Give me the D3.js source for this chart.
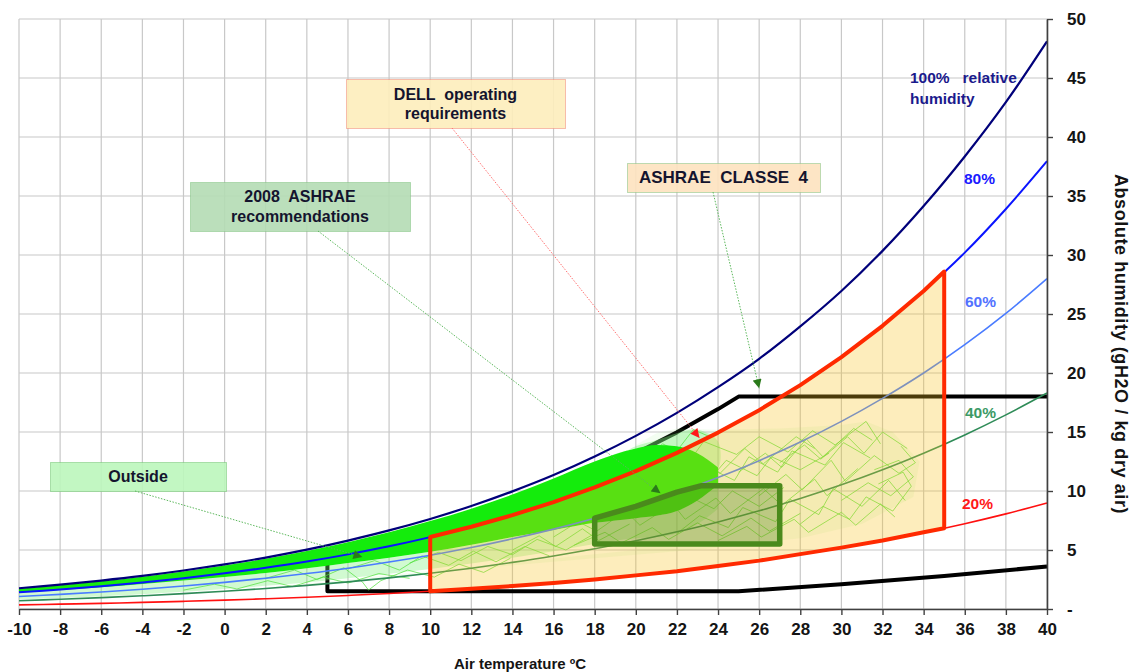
<!DOCTYPE html>
<html>
<head>
<meta charset="utf-8">
<script src="https://cdn.jsdelivr.net/npm/d3@7"></script>
<style>
  html, body { margin: 0; padding: 0; background: #fff; }
  svg { display: block; font-family: "Liberation Sans", Arial, sans-serif; }
</style>
</head>
<body>
<div id="chart"></div>
<script>
// Axis ticks
const xTicks = [-10,-8,-6,-4,-2,0,2,4,6,8,10,12,14,16,18,20,22,24,26,28,30,32,34,36,38,40]
const yTicks = [0,5,10,15,20,25,30,35,40,45,50]
const yTickLabels = ['-','5','10','15','20','25','30','35','40','45','50']

// Relative humidity curves (g H2O / kg dry air) at each temperature
const rhTemps = [-10,-8,-6,-4,-2,0,2,4,6,8,10,12,14,16,18,20,22,24,26,28,30,32,34,36,38,40]
const rh100 = [1.76,2.07,2.41,2.80,3.26,3.78,4.36,5.03,5.80,6.66,7.63,8.73,9.97,11.35,12.92,14.67,16.62,18.8,21.2,23.95,26.95,30.35,34.15,38.35,42.95,48.1]
const rh80 = [1.41,1.65,1.93,2.24,2.60,3.02,3.49,4.02,4.63,5.31,6.09,6.97,7.95,9.06,10.3,11.68,13.23,14.95,16.85,18.97,21.35,24.0,26.95,30.2,33.9,37.95]
const rh60 = [1.06,1.24,1.44,1.68,1.95,2.26,2.61,3.01,3.46,3.98,4.56,5.21,5.95,6.77,7.69,8.72,9.87,11.15,12.57,14.15,15.9,17.85,20.0,22.4,25.05,28.0]
const rh40 = [0.70,0.82,0.96,1.12,1.30,1.50,1.74,2.0,2.3,2.64,3.03,3.46,3.95,4.49,5.1,5.78,6.54,7.38,8.32,9.36,10.52,11.8,13.2,14.75,16.45,18.3]
const rh20 = [0.35,0.41,0.48,0.56,0.65,0.75,0.87,1.0,1.15,1.32,1.51,1.72,1.96,2.23,2.53,2.87,3.24,3.65,4.11,4.62,5.18,5.8,6.48,7.23,8.06,8.98]

// ASHRAE class 4 envelope (black)
const classA4 = [[40,18],[25,18],[24,16.94],[22,14.97],[20,13.2],[18,11.62],[16,10.21],[14,8.96],[12,7.85],[10,6.86],[8,5.98],[5,4.86],[5,1.5],[25,1.5],[30,2.1],[35,2.8],[40,3.6]]

// DELL operating requirements (red outline, yellow fill)
const dellZone = [[10,1.5],[10,6.1],[12,6.97],[14,7.95],[16,9.06],[18,10.3],[20,11.68],[22,13.23],[24,14.95],[26,16.85],[28,18.97],[30,21.35],[32,24.0],[34,26.95],[35,28.6],[35,6.85],[34,6.5],[32,5.8],[30,5.2],[28,4.65],[26,4.1],[24,3.65],[22,3.2],[20,2.85],[18,2.5],[16,2.2],[14,1.95],[12,1.72],[10,1.5]]

// 2008 ASHRAE recommended envelope (dark green)
const ashrae2008 = [[18,5.5],[18,7.7],[20,8.7],[22,9.9],[23.2,10.45],[27,10.45],[27,5.5],[18,5.5]]

// Outside measurements: dense band, halos and individual tracks
const denseT = [-10,-8,-6,-4,-2,0,2,4,6,8,10,12,14,16,18,20,21,22,23,24]
const denseHi = [1.72,2.02,2.35,2.74,3.18,3.69,4.26,4.91,5.66,6.5,7.45,8.5,9.7,11.05,12.5,13.6,13.9,13.8,13.2,12.0]
const denseLo = [1.4,1.6,1.85,2.12,2.42,2.72,3.05,3.45,3.9,4.35,4.85,5.45,6.1,6.7,7.3,7.7,7.9,8.3,9.2,10.5]
const haloLo = [0.8,0.93,1.08,1.26,1.46,1.69,1.96,2.25,2.6,2.98,3.4,3.85,4.35,4.9,5.5,6.0,6.1,6.4,7.2,8.5]
const upperHalo = [[17,11.7],[19,12.9],[20,13.8],[21,14.3],[22,14.9],[23,15.2],[24,14.2],[24,12.0],[23,13.2],[22,13.8],[20,13.6],[18,12.5]]
const meshArea = [[20,13.9],[21,14.9],[22,15.3],[24,15.2],[27,15.3],[30,15.6],[31.2,15.9],[32.5,15.0],[33.8,12.5],[33.5,9.5],[31,7.2],[28,6.0],[24,5.2],[20,4.6],[16,4.0],[12,3.4],[8,2.7],[5,2.2],[2,1.8],[20,5.0]]
const outsideTracks = [
  [[16,6.1],[17.2,7.4],[18.1,6.6],[19.5,8.3],[20.2,7.1],[21.8,8.9],[22.4,7.6],[23.9,9.4],[24.6,8.1],[26.2,10.2],[27.1,8.8],[28.7,11.0],[29.3,9.6],[30.8,11.9]],
  [[18,9.4],[19.6,10.8],[20.3,9.7],[21.1,11.5],[22.7,10.3],[23.4,12.1],[24.8,10.9],[25.5,12.9],[26.9,11.6],[27.6,13.4],[29.2,12.2],[30.1,14.1],[31.4,12.8]],
  [[20,12.4],[21.4,13.6],[22.6,12.5],[23.3,14.2],[24.9,13.1],[26.0,14.6],[27.4,13.3],[28.6,15.1],[29.7,13.9],[31.2,15.9],[31.9,14.0]],
  [[22,6.4],[23.1,7.9],[24.5,6.9],[25.2,8.6],[26.8,7.4],[27.5,9.3],[28.9,8.0],[29.6,10.2],[31.0,8.7],[32.3,10.9],[33.1,9.2]],
  [[24,5.8],[25.4,7.0],[26.1,6.1],[27.7,7.6],[28.4,6.5],[30.0,8.2],[30.7,7.1],[31.9,8.9],[32.6,7.8]],
  [[26,9.6],[27.3,11.4],[28.1,10.1],[29.5,12.6],[30.2,10.8],[31.6,13.0],[32.8,11.5],[33.6,12.4],[32.9,13.8]],
  [[27,12.4],[28.2,13.9],[29.0,12.7],[30.3,14.6],[31.1,13.2],[32.0,15.0],[33.2,13.6]],
  [[28,7.2],[29.1,8.7],[30.4,7.6],[31.2,9.5],[32.5,8.3],[33.4,10.4],[33.0,11.6],[31.8,10.6]],
  [[19,7.6],[20.4,9.1],[21.2,8.0],[22.5,9.6],[23.8,8.5],[24.7,10.0],[26.0,8.7],[27.2,10.3]],
  [[17,5.4],[18.5,6.5],[19.3,5.6],[20.8,6.9],[21.6,5.9],[23.0,7.3],[24.2,6.2],[25.6,7.7],[26.5,6.6],[28.0,8.1]],
  [[25,11.6],[26.3,13.2],[27.1,12.0],[28.3,14.4],[29.1,12.9],[30.6,15.3],[31.5,14.3]],
  [[21,10.6],[22.3,12.0],[23.6,11.0],[24.4,12.6],[25.9,11.3],[26.6,12.9],[28.0,11.8],[29.4,13.2]],
  [[14,5.0],[15.3,6.2],[16.1,5.3],[17.4,6.8],[18.2,5.8],[19.7,7.2]],
  [[2,2.6],[3.4,3.3],[4.5,2.5],[5.8,3.5],[6.7,2.3],[7.0,1.6],[7.6,2.4],[8.9,3.3],[10.2,2.7],[11.4,3.8],[12.6,3.1],[13.9,4.3]],
  [[6,3.4],[7.3,4.1],[8.5,3.3],[9.6,4.5],[10.9,3.7],[12.1,4.9],[13.2,4.0],[14.6,5.3],[15.8,4.5]],
  [[-2,1.6],[-0.5,2.1],[0.6,1.7],[2.1,2.4],[3.3,1.9],[4.8,2.7],[6.0,2.2],[7.5,3.0],[9.0,2.6]],
  [[9,3.9],[10.4,4.8],[11.5,4.1],[12.8,5.3],[14.0,4.6],[15.2,5.9],[16.6,5.0],[17.9,6.3]],
  [[18.5,12.3],[19.6,12.9],[20.4,12.4],[21.3,14.0],[22.0,13.4],[22.8,15.2],[23.6,14.6]],
  [[30,9.2],[31.3,10.7],[32.4,9.6],[33.5,11.2],[32.8,12.6],[31.6,11.8]],
  [[22,11.2],[23.3,12.7],[24.1,11.5],[25.3,13.6],[26.2,12.3],[27.8,14.6],[28.7,13.6]]
]

// Callout arrow tips (data coordinates)
const tipDell = [23.1, 14.5]
const tipClass4 = [26.0, 18.7]
const tip2008 = [21.2, 9.8]
const tipOutside = [6.7, 4.4]

const W = 1135, H = 672
const FONT = '"Liberation Sans", Arial, sans-serif'

const svg = d3.select('#chart').append('svg')
  .attr('width', W).attr('height', H)

const x = d3.scaleLinear().domain([-10, 40]).range([19, 1047])
const y = d3.scaleLinear().domain([0, 50]).range([609, 19])

// Arrow markers
const defs = svg.append('defs')
function marker(id, color) {
  defs.append('marker')
    .attr('id', id)
    .attr('viewBox', '0 0 10 10')
    .attr('refX', 10).attr('refY', 5)
    .attr('markerWidth', 10).attr('markerHeight', 9)
    .attr('markerUnits', 'userSpaceOnUse')
    .attr('orient', 'auto')
    .append('path').attr('d', 'M0,0 L10,5 L0,10 Z').attr('fill', color)
}
marker('arr-red', '#ff1a1a')
marker('arr-green', '#2a7a1a')

// Grid
const grid = svg.append('g').attr('class', 'grid')
grid.selectAll('line.v').data(xTicks).join('line').attr('class', 'v')
  .attr('x1', d => x(d)).attr('x2', d => x(d))
  .attr('y1', y(50)).attr('y2', y(0))
  .attr('stroke', '#c8c8c8').attr('stroke-width', 1.2)
grid.selectAll('line.h').data(yTicks).join('line').attr('class', 'h')
  .attr('x1', x(-10)).attr('x2', x(40))
  .attr('y1', d => y(d)).attr('y2', d => y(d))
  .attr('stroke', '#c8c8c8').attr('stroke-width', 1.2)

const pline = d3.line().x(d => x(d[0])).y(d => y(d[1]))

// Class 4 envelope
svg.append('path')
  .attr('d', pline(classA4))
  .attr('fill', 'none').attr('stroke', '#000')
  .attr('stroke-width', 4).attr('stroke-linejoin', 'round')

// Outside data
const band = d3.area()
  .x((d, i) => x(denseT[i]))
  .curve(d3.curveMonotoneX)
svg.append('path')
  .attr('d', pline(meshArea) + 'Z')
  .attr('fill', '#8ee878').attr('opacity', 0.1)
svg.append('path')
  .attr('d', band.y0((d, i) => y(haloLo[i])).y1((d, i) => y(denseLo[i]))(denseT))
  .attr('fill', '#7cf07c').attr('opacity', 0.35)
svg.append('path')
  .attr('d', d3.line().x(d => x(d[0])).y(d => y(d[1])).curve(d3.curveCatmullRomClosed)(upperHalo))
  .attr('fill', '#7cf07c').attr('opacity', 0.4)
svg.append('g').selectAll('path').data(outsideTracks).join('path')
  .attr('d', d => pline(d))
  .attr('fill', 'none').attr('stroke', '#4fe03a')
  .attr('stroke-width', 0.9).attr('opacity', 0.8)
svg.append('path')
  .attr('d', band.y0((d, i) => y(denseLo[i])).y1((d, i) => y(denseHi[i]))(denseT))
  .attr('fill', '#14ec0c')

// RH curves
const rhSeries = [
  { v: rh100, color: '#00007a', w: 2.2 },
  { v: rh80, color: '#0a14ff', w: 2 },
  { v: rh60, color: '#4a7cff', w: 1.6 },
  { v: rh40, color: '#2e8b57', w: 1.6 },
  { v: rh20, color: '#ff1010', w: 1.6 }
]
const rhLine = d3.line()
  .x((d, i) => x(rhTemps[i]))
  .y(d => y(d))
  .curve(d3.curveCatmullRom)
svg.append('g').selectAll('path').data(rhSeries).join('path')
  .attr('d', d => rhLine(d.v))
  .attr('fill', 'none').attr('stroke', d => d.color).attr('stroke-width', d => d.w)

// DELL zone fill + outline
svg.append('path')
  .attr('d', pline(dellZone) + 'Z')
  .attr('fill', '#f8c220').attr('fill-opacity', 0.3)
svg.append('path')
  .attr('d', pline(dellZone) + 'Z')
  .attr('fill', 'none').attr('stroke', '#ff2a00')
  .attr('stroke-width', 4).attr('stroke-linejoin', 'round')

// 2008 ASHRAE recommended
svg.append('path')
  .attr('d', pline(ashrae2008) + 'Z')
  .attr('fill', '#3d7a14').attr('fill-opacity', 0.3)
  .attr('stroke', '#4a8a1c').attr('stroke-width', 5.5)
  .attr('stroke-linejoin', 'round')

// Axes
const xAxis = svg.append('g')
  .attr('transform', `translate(0,${y(0)})`)
  .call(d3.axisBottom(x).tickValues(xTicks).tickSize(6).tickSizeOuter(0).tickPadding(8)
    .tickFormat(d => String(d)))
const yAxis = svg.append('g')
  .attr('transform', `translate(${x(40)},0)`)
  .call(d3.axisRight(y).tickValues(yTicks).tickSize(6).tickSizeOuter(0).tickPadding(14)
    .tickFormat((d, i) => yTickLabels[i]))
;[xAxis, yAxis].forEach(g => {
  g.select('.domain').attr('stroke', '#404040').attr('stroke-width', 1.6)
  g.selectAll('.tick line').attr('stroke', '#404040').attr('stroke-width', 1.4)
  g.selectAll('.tick text')
    .attr('fill', '#141414').attr('font-size', '17px')
    .attr('font-weight', 'bold').attr('font-family', FONT)
})

// Axis titles
svg.append('text')
  .attr('x', 520).attr('y', 669)
  .attr('text-anchor', 'middle')
  .attr('font-size', '15px').attr('font-weight', 'bold').attr('font-family', FONT)
  .attr('fill', '#141414')
  .text('Air temperature ºC')
svg.append('text')
  .attr('transform', 'translate(1121,344) rotate(90)')
  .attr('dy', '0.35em')
  .attr('text-anchor', 'middle')
  .attr('font-size', '18px').attr('font-weight', 'bold').attr('font-family', FONT)
  .attr('letter-spacing', '0.6px')
  .attr('fill', '#141414')
  .text('Absolute humidity (gH2O / kg dry air)')

// RH labels
const rhLabels = [
  { lines: ['100%   relative', 'humidity'], x: 910, y: 83, color: '#1a1a8c' },
  { lines: ['80%'], x: 964, y: 184, color: '#1a1aff' },
  { lines: ['60%'], x: 965, y: 307, color: '#5272ff' },
  { lines: ['40%'], x: 965, y: 418, color: '#3c9a66' },
  { lines: ['20%'], x: 962, y: 509, color: '#ff1a1a' }
]
rhLabels.forEach(l => {
  const t = svg.append('text')
    .attr('x', l.x).attr('y', l.y)
    .attr('font-size', '15.5px').attr('font-weight', 'bold').attr('font-family', FONT)
    .attr('fill', l.color).attr('xml:space', 'preserve')
  l.lines.forEach((s, i) => {
    t.append('tspan').attr('x', l.x).attr('dy', i ? 21 : 0).text(s)
  })
})

// Callouts
const callouts = [
  { box: [346, 79, 219, 49], fill: '#fdedbb', border: '#f08070', lines: ['DELL  operating', 'requirements'],
    base: 100, gap: 19, size: 16, from: [452, 128], tip: tipDell, line: '#ff7070', head: 'arr-red' },
  { box: [627, 163, 193, 29], fill: '#fde2bf', border: '#7cc07c', lines: ['ASHRAE  CLASSE  4'],
    base: 183, gap: 0, size: 17, from: [713, 192], tip: tipClass4, line: '#5cb85c', head: 'arr-green' },
  { box: [190, 182, 220, 49], fill: '#b4dcb4', border: '#7cc07c', lines: ['2008  ASHRAE', 'recommendations'],
    base: 202, gap: 20, size: 16, from: [318, 231], tip: tip2008, line: '#5cb85c', head: 'arr-green' },
  { box: [50, 462, 176, 29], fill: '#bbf6bb', border: '#6cc06c', lines: ['Outside'],
    base: 482, gap: 0, size: 16, from: [135, 491], tip: tipOutside, line: '#5cb85c', head: 'arr-green' }
]
callouts.forEach(c => {
  const [bx, by, bw, bh] = c.box
  svg.append('rect')
    .attr('x', bx + 0.5).attr('y', by + 0.5).attr('width', bw).attr('height', bh)
    .attr('fill', c.fill).attr('fill-opacity', 0.9)
    .attr('stroke', c.border).attr('stroke-width', 1).attr('stroke-dasharray', '1,1')
  const t = svg.append('text')
    .attr('text-anchor', 'middle')
    .attr('font-size', c.size + 'px').attr('font-weight', 'bold').attr('font-family', FONT)
    .attr('fill', '#14142e').attr('xml:space', 'preserve')
  c.lines.forEach((s, i) => {
    t.append('tspan').attr('x', bx + bw / 2).attr('y', c.base + i * c.gap).text(s)
  })
  svg.append('line')
    .attr('x1', c.from[0]).attr('y1', c.from[1])
    .attr('x2', x(c.tip[0])).attr('y2', y(c.tip[1]))
    .attr('stroke', c.line).attr('stroke-width', 1)
    .attr('stroke-dasharray', '1.5,1.5')
    .attr('marker-end', `url(#${c.head})`)
})
</script>
</body>
</html>
